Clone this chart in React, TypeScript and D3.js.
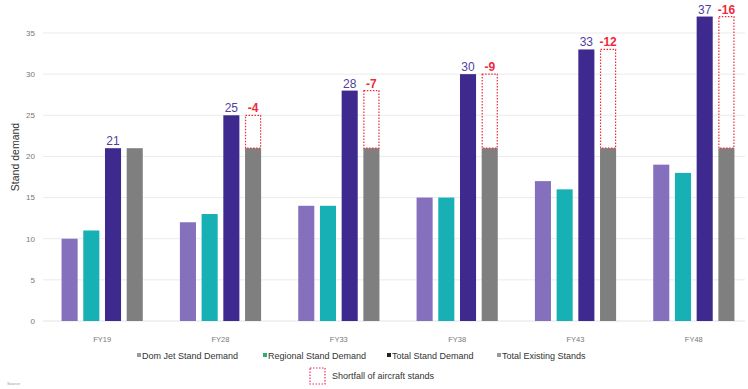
import React from "react";
import * as d3 from "d3";

const categories = ["FY19", "FY28", "FY33", "FY38", "FY43", "FY48"];
const domJet = [10, 12, 14, 15, 17, 19];
const regional = [11, 13, 14, 15, 16, 18];
const totalDemand = [21, 25, 28, 30, 33, 37];
const existing = [21, 21, 21, 21, 21, 21];
const yTicks = [0, 5, 10, 15, 20, 25, 30, 35];

const seriesNames = ["Dom Jet Stand Demand", "Regional Stand Demand", "Total Stand Demand", "Total Existing Stands"];
const seriesColors = ["#8470bd", "#17b0b4", "#3e2a8f", "#7f7f7f"];
const legendMarkerColors = ["#9a9a9a", "#27b56b", "#222222", "#9a9a9a"];

const W = 748;
const H = 389;
const FONT = "'Liberation Sans', Arial, sans-serif";

export default function App() {
  const y = d3.scaleLinear().domain([0, 35]).range([321, 33]);
  const x0 = d3.scaleBand<string>().domain(categories).range([43, 753]).padding(0);
  const groupW = 81.2;
  const inset = (x0.bandwidth() - groupW) / 2;
  const x1 = d3
    .scaleBand<number>()
    .domain([0, 1, 2, 3])
    .range([inset, inset + groupW])
    .paddingInner(0.26)
    .paddingOuter(0);
  const bw = x1.bandwidth();
  const seriesData = [domJet, regional, totalDemand, existing];

  const legendItems = [
    { x: 137, label: seriesNames[0] },
    { x: 263, label: seriesNames[1] },
    { x: 387, label: seriesNames[2] },
    { x: 497, label: seriesNames[3] },
  ];

  return (
    <svg width={W} height={H} style={{ display: "block", position: "absolute", left: 0, top: 0 }} fontFamily={FONT}>
      <rect width={W} height={H} fill="#ffffff" />
      {/* gridlines and y tick labels */}
      {yTicks.map((t) => (
        <g key={t}>
          {t > 0 && <line x1={43} x2={745} y1={y(t)} y2={y(t)} stroke="#ebebeb" strokeWidth={1} />}
          <text x={35} y={y(t)} dy="0.35em" textAnchor="end" fontSize={8} fill="#777">
            {t}
          </text>
        </g>
      ))}
      <line x1={43} x2={745} y1={y(0)} y2={y(0)} stroke="#e3e3e3" strokeWidth={1} />
      <text
        transform={`translate(18.5,157) rotate(-90)`}
        textAnchor="middle"
        fontSize={10.5}
        fill="#333"
      >
        Stand demand
      </text>

      {categories.map((c, i) => {
        const gx = x0(c)!;
        const shortfall = existing[i] - totalDemand[i];
        const sx = gx + x1(3)!;
        return (
          <g key={c}>
            {seriesData.map((vals, s) => (
              <rect
                key={s}
                x={gx + x1(s)!}
                y={y(vals[i])}
                width={bw}
                height={y(0) - y(vals[i])}
                fill={seriesColors[s]}
              />
            ))}
            <text
              x={gx + x1(2)! + bw / 2}
              y={y(totalDemand[i]) - 3}
              textAnchor="middle"
              fontSize={12}
              fill="#4f3f9f"
            >
              {totalDemand[i]}
            </text>
            {shortfall < 0 && (
              <g>
                <rect
                  x={sx + 0.5}
                  y={y(totalDemand[i])}
                  width={bw - 1}
                  height={y(existing[i]) - y(totalDemand[i])}
                  fill="none"
                  stroke="#ee2a3c"
                  strokeWidth={1.2}
                  strokeDasharray="1.5,1.5"
                />
                <text
                  x={sx + bw / 2}
                  y={y(totalDemand[i]) - 3}
                  textAnchor="middle"
                  fontSize={12}
                  fontWeight="bold"
                  fill="#ee2a3c"
                >
                  {shortfall}
                </text>
              </g>
            )}
            <text x={gx + x0.bandwidth() / 2} y={342} textAnchor="middle" fontSize={7.5} fill="#777">
              {c}
            </text>
          </g>
        );
      })}

      {/* legend */}
      {legendItems.map((it, i) => (
        <g key={it.label}>
          <rect x={it.x} y={353} width={4} height={4} fill={legendMarkerColors[i]} />
          <text x={it.x + 5} y={358.5} fontSize={9} fill="#333">
            {it.label}
          </text>
        </g>
      ))}
      <rect
        x={310}
        y={368}
        width={15}
        height={16}
        fill="none"
        stroke="#ee2a6a"
        strokeWidth={1.2}
        strokeDasharray="1.5,1.5"
      />
      <text x={332} y={379} fontSize={9} fill="#333">
        Shortfall of aircraft stands
      </text>
      <text x={7} y={385} fontSize={4} fill="#999">
        Source:
      </text>
    </svg>
  );
}
